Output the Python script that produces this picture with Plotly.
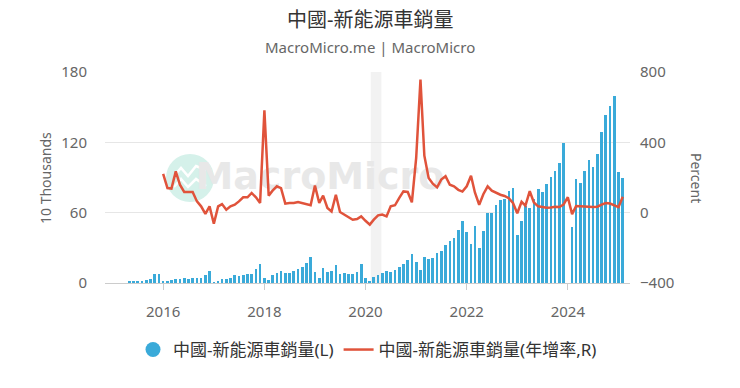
import plotly.graph_objects as go
from datetime import datetime, timedelta

# ---------------- data ----------------
bar_start = "2015-05-01"
sales_2015 = [1.0, 1.3, 1.4, 1.6, 2.2, 3.8, 7.5, 7.8]  # May-Dec
sales_2016 = [1.7, 1.1, 2.3, 3.1, 3.3, 4.5, 3.3, 4.1, 4.4, 4.5, 6.8, 10.4]
sales_2017 = [0.6, 1.5, 3.4, 3.6, 4.5, 6.5, 5.6, 6.8, 7.8, 7.9, 12.2, 16.0]
sales_2018 = [4.0, 2.5, 6.8, 8.2, 10.2, 8.4, 8.4, 10.1, 12.1, 13.8, 16.9, 22.5]
sales_2019 = [9.6, 4.5, 12.6, 9.7, 10.4, 15.0, 8.0, 8.5, 8.0, 7.5, 9.5, 16.3]
sales_2020 = [4.4, 1.3, 5.3, 7.2, 8.2, 10.4, 9.8, 10.9, 13.8, 16.0, 20.0, 24.8]
sales_2021 = [17.9, 11.0, 22.6, 20.6, 21.7, 25.6, 27.1, 32.1, 35.7, 38.3, 45.0, 53.1]
sales_2022 = [43.1, 33.4, 48.4, 29.9, 44.7, 59.6, 59.3, 66.6, 70.8, 71.4, 78.6, 81.4]
sales_2023 = [40.8, 52.5, 65.3, 63.6, 71.7, 80.6, 78.0, 84.6, 90.4, 95.6, 102.6, 119.1]
sales_2024 = [None, 47.7, 88.3, 85.0, 95.5, 104.9, 99.1, 110.0, 128.7, 143.0, 151.2, 159.6]
sales_2025 = [94.4, 89.2]

yoy_start = "2016-01-01"
yoy_2016 = [220, 140, 137, 235, 159, 118, 118, 118, 64, 36, -7, 36]
yoy_2017 = [-63, 36, 49, 17, 36, 45, 64, 87, 87, 112, 87, 55]
yoy_2018 = [582, 97, 125, 150, 140, 51, 55, 55, 61, 55, 45, 42]
yoy_2019 = [154, 55, 97, 27, 7, 102, 4, -11, -30, -40, -36, -21]
yoy_2020 = [-46, -68, -40, -15, -11, -21, 36, 42, 84, 121, 118, 59]
yoy_2021 = [311, 757, 324, 197, 165, 144, 188, 207, 159, 150, 130, 120]
yoy_2022 = [150, 210, 115, 45, 105, 150, 125, 112, 102, 95, 82, 55]
yoy_2023 = [-3, 62, 40, 122, 58, 36, 32, 28, 30, 34, 32, 46]
yoy_2024 = [88, -8, 38, 38, 36, 34, 32, 34, 46, 55, 52, 42]
yoy_2025 = [32, 90]

shade_start = "2020-02-08"
shade_end = "2020-04-25"

title = "中國-新能源車銷量"
subtitle = "MacroMicro.me | MacroMicro"
bar_name = "中國-新能源車銷量(L)"
line_name = "中國-新能源車銷量(年增率,R)"
left_title = "10 Thousands"
right_title = "Percent"
watermark = "MacroMicro"
left_ticks = [0, 60, 120, 180]
right_ticks = [-400, 0, 400, 800]
year_ticks = ["2016-01-01", "2018-01-01", "2020-01-01", "2022-01-01", "2024-01-01"]
year_labels = ["2016", "2018", "2020", "2022", "2024"]

# ---------------- build ----------------
def month_series(start, n):
    y, m = int(start[:4]), int(start[5:7])
    out = []
    for _ in range(n):
        out.append(f"{y:04d}-{m:02d}-01")
        m += 1
        if m > 12:
            m = 1
            y += 1
    return out

sales = (sales_2015 + sales_2016 + sales_2017 + sales_2018 + sales_2019 + sales_2020
         + sales_2021 + sales_2022 + sales_2023 + sales_2024 + sales_2025)
yoy = (yoy_2016 + yoy_2017 + yoy_2018 + yoy_2019 + yoy_2020 + yoy_2021
       + yoy_2022 + yoy_2023 + yoy_2024 + yoy_2025)
sales_x = month_series(bar_start, len(sales))
yoy_x = month_series(yoy_start, len(yoy))

BLUE = "#3aaad9"
RED = "#e0533b"
FONT = "Noto Sans, Noto Sans CJK TC, sans-serif"

W, H = 740, 388
L, R, T, B = 105, 110, 72, 105
PW, PH = W - L - R, H - T - B
X_RANGE = ["2014-11-07", "2025-03-25"]
Y_RANGE = [0, 180]

def px(x):
    return (x - L) / PW

def py(y):
    return (H - B - y) / PH

# watermark placement (pixel -> axis units), drawn under the overlay line
_x0 = datetime.fromisoformat(X_RANGE[0])
_x1 = datetime.fromisoformat(X_RANGE[1])
wm_x = (_x0 + (_x1 - _x0) * px(320)).strftime("%Y-%m-%d")
wm_y = Y_RANGE[0] + (Y_RANGE[1] - Y_RANGE[0]) * py(179)

fig = go.Figure()
fig.add_trace(go.Bar(x=sales_x, y=sales, marker=dict(color=BLUE, line=dict(width=0)),
                     width=1.65e9, name=bar_name, showlegend=False, yaxis="y"))
fig.add_trace(go.Scatter(x=[wm_x], y=[wm_y], mode="text", text=[watermark], showlegend=False,
                         hoverinfo="skip", cliponaxis=False,
                         textfont=dict(family="DejaVu Sans, sans-serif", size=38, color="#e8e8e8",
                                       weight="bold")))
fig.add_trace(go.Scatter(x=[None], y=[None], mode="markers", name=bar_name,
                         marker=dict(color=BLUE, size=15, symbol="circle")))
fig.add_trace(go.Scatter(x=yoy_x, y=yoy, mode="lines", name=line_name, yaxis="y2",
                         line=dict(color=RED, width=2.5)))

shapes = [
    dict(type="rect", xref="x", yref="paper", x0=shade_start, x1=shade_end, y0=0, y1=1,
         fillcolor="#f2f2f2", line=dict(width=0), layer="below"),
    dict(type="circle", xref="paper", yref="paper", x0=px(166), x1=px(214), y0=py(202), y1=py(154),
         fillcolor="#d5f1ea", line=dict(width=0), layer="below"),
    dict(type="path", xref="paper", yref="paper", layer="below",
         path="M {} {} L {} {} L {} {} L {} {} L {} {}".format(
             px(174), py(176), px(181), py(168), px(188), py(176), px(196), py(166), px(206), py(170)),
         line=dict(color="white", width=2.5)),
    dict(type="path", xref="paper", yref="paper", layer="below",
         path="M {} {} L {} {} L {} {} L {} {} L {} {}".format(
             px(174), py(187), px(181), py(179), px(188), py(187), px(196), py(179), px(206), py(186)),
         line=dict(color="white", width=2.5)),
]

annotations = [
    dict(text=title, xref="paper", yref="paper", x=px(370), y=py(20), showarrow=False,
         xanchor="center", yanchor="middle", font=dict(family=FONT, size=20, color="#333333")),
    dict(text=subtitle, xref="paper", yref="paper", x=px(370), y=py(47), showarrow=False,
         xanchor="center", yanchor="middle", font=dict(family=FONT, size=15, color="#666666")),
    dict(text=left_title, xref="paper", yref="paper", x=px(45), y=py(178), showarrow=False,
         textangle=-90, xanchor="center", yanchor="middle", font=dict(family=FONT, size=14, color="#666666")),
    dict(text=right_title, xref="paper", yref="paper", x=px(697), y=py(178), showarrow=False,
         textangle=90, xanchor="center", yanchor="middle", font=dict(family=FONT, size=14, color="#666666")),
]

fig.update_layout(
    width=W, height=H, margin=dict(l=L, r=R, t=T, b=B, autoexpand=False),
    paper_bgcolor="white", plot_bgcolor="white",
    font=dict(family=FONT, color="#666666", size=14),
    shapes=shapes, annotations=annotations, bargap=0, hovermode=False,
    xaxis=dict(type="date", range=X_RANGE, tickvals=year_ticks, ticktext=year_labels,
               showgrid=False, zeroline=False, showline=True, linecolor="#cccccc", linewidth=1,
               ticks="outside", ticklen=6, tickcolor="#cccccc", ticklabelstandoff=9,
               tickfont=dict(size=15, color="#666666")),
    yaxis=dict(range=Y_RANGE, tickvals=left_ticks, showgrid=True, gridcolor="#e6e6e6", gridwidth=1,
               zeroline=False, showline=False, ticks="", ticklabelstandoff=17,
               tickfont=dict(size=15, color="#666666")),
    yaxis2=dict(range=[-400, 800], tickvals=right_ticks, overlaying="y", side="right", showgrid=False,
                zeroline=False, showline=False, ticks="", ticklabelstandoff=9,
                tickfont=dict(size=15, color="#666666")),
    legend=dict(orientation="h", x=0.5, xanchor="center", y=py(350), yanchor="middle",
                font=dict(family=FONT, size=17, color="#333333"), itemwidth=30,
                bgcolor="rgba(0,0,0,0)"),
)

fig.write_html("out.html")
